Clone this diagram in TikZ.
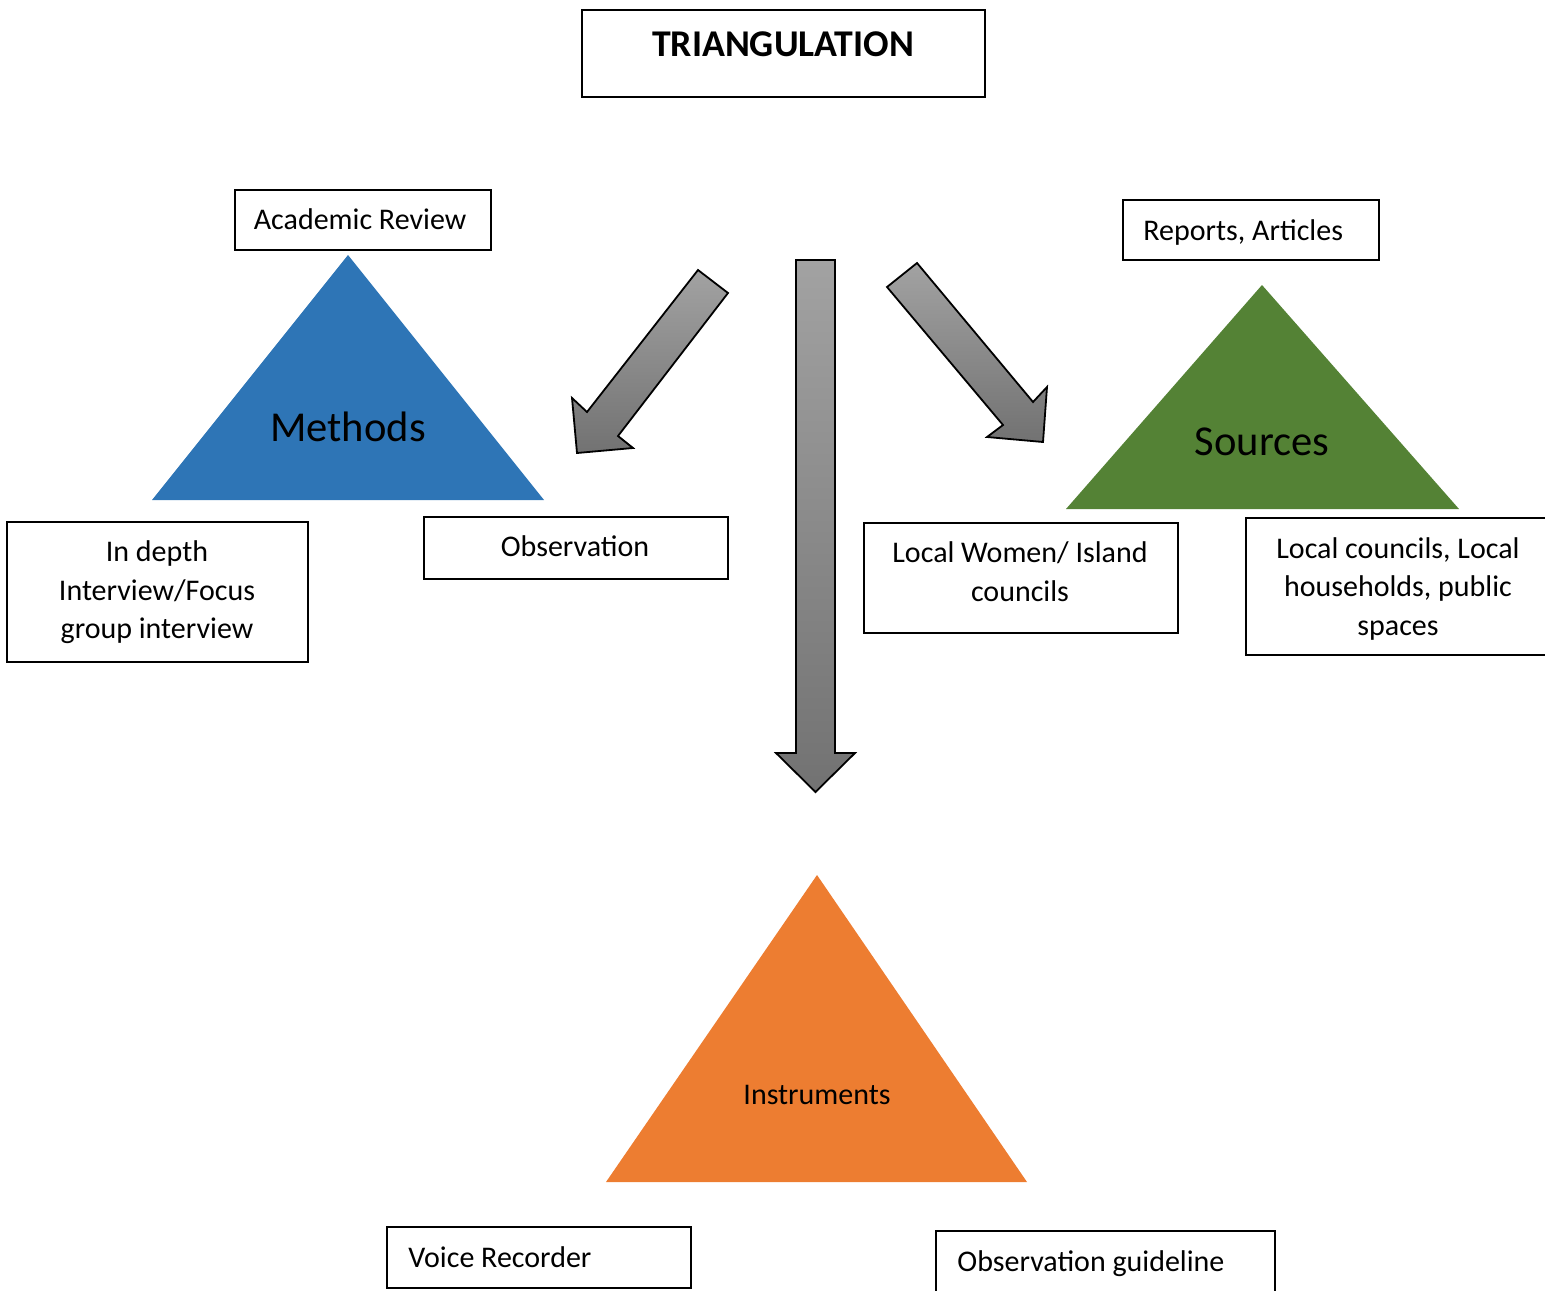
\documentclass[tikz,border=0pt]{standalone}
\usepackage{fontspec}
\setmainfont{Carlito}
\definecolor{mblue}{HTML}{2E75B6}
\definecolor{sgreen}{HTML}{548235}
\definecolor{iorange}{HTML}{ED7D31}
\definecolor{agtop}{HTML}{A2A2A2}
\definecolor{agbot}{HTML}{727272}
\begin{document}
\begin{tikzpicture}[x=0.5pt,y=-0.5pt,
  box/.style={draw=black,line width=1pt,inner sep=0pt,rectangle},
  txt/.style={font=\fontsize{15}{19.3}\selectfont,inner sep=0pt,align=center},
  oneline/.style={text height=0.68em,text depth=0.2em,yshift=-3pt},
  multi/.style={yshift=-1.2pt},
  bigtxt/.style={font=\fontsize{21.3}{25}\selectfont,inner sep=0pt,text height=0.68em,text depth=0.2em,yshift=-4.5pt},
  bigarrow/.style={draw=black,line width=0.9pt,top color=agtop,bottom color=agbot,line join=miter}]
\useasboundingbox (0,0) rectangle (1545,1290);
\clip (0,0) rectangle (1545,1290);

% triangles
\fill[mblue] (348,255) -- (544,500) -- (152,500) -- cycle;
\fill[sgreen] (1262,285) -- (1459,509) -- (1066,509) -- cycle;
\fill[iorange] (817,875) -- (1027,1182) -- (606,1182) -- cycle;
\node[bigtxt] (methods) at (348,428) {Methods};
\node[bigtxt] (sources) at (1262,442) {Sources};
\node[txt,oneline] (instr) at (817,1094) {Instruments};

% arrows
\path[bigarrow] (698,270) -- (728,293) -- (618,436) -- (633,448) -- (577,453) -- (572,398) -- (587,412) -- cycle;
\path[bigarrow] (917,263) -- (1033,402) -- (1047,387) -- (1043,442) -- (987,437) -- (1003,425) -- (887,287) -- cycle;
\path[bigarrow] (796,260) -- (835,260) -- (835,753) -- (855,753) -- (815.5,792) -- (776,753) -- (796,753) -- cycle;

% boxes
\node[box,minimum width=201.5pt,minimum height=43.5pt] (tri) at (783.5,53.5) {};
\node[font=\fontsize{18.9}{22}\selectfont\bfseries,inner sep=0pt,text height=0.68em,text depth=0.2em,yshift=-3.5pt] (trit) at (783,45) {TRIANGULATION};

\node[box,minimum width=128pt,minimum height=30pt] (acad) at (363,220) {};
\node[txt,oneline] (acadt) at (360,219) {Academic Review};

\node[box,minimum width=128pt,minimum height=30pt] (rep) at (1251,230) {};
\node[txt,oneline,anchor=west] (rept) at (1143,230) {Reports, Articles};

\node[box,minimum width=150.5pt,minimum height=70pt] (indepth) at (157.5,592) {};
\node[txt,multi] (indeptht) at (157,590) {In depth\\Interview/Focus\\group interview};

\node[box,minimum width=152pt,minimum height=31pt] (obs) at (576,548) {};
\node[txt,oneline] (obst) at (575,546) {Observation};

\node[box,minimum width=157pt,minimum height=55pt] (women) at (1021,578) {};
\node[txt] (woment) at (1020,571.5) {Local Women/ Island\\councils};

\node[box,minimum width=157pt,minimum height=68.5pt] (councils) at (1403,586.5) {};
\node[txt,multi] (councilst) at (1398,586.5) {Local councils, Local\\households, public\\spaces};

\node[box,minimum width=152pt,minimum height=30.5pt] (voice) at (539,1257.5) {};
\node[txt,oneline,anchor=west] (voicet) at (408,1257) {Voice Recorder};

\node[box,minimum width=169.5pt,minimum height=34.5pt] (guide) at (1105.5,1265.5) {};
\node[txt,oneline,anchor=west] (guidet) at (957,1261) {Observation guideline};
\end{tikzpicture}
\end{document}
